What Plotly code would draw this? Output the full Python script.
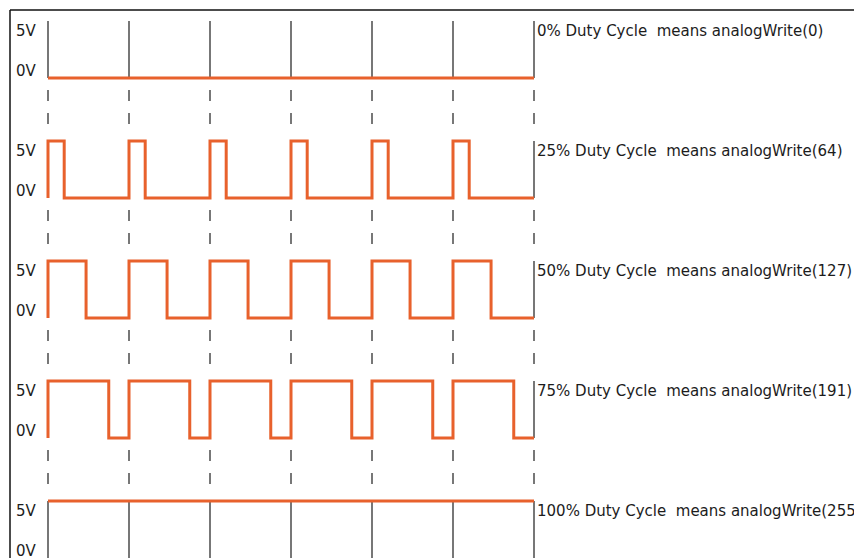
import plotly.graph_objects as go

# --- data ---
duty_labels = ["0%", "25%", "50%", "75%", "100%"]
analog_values = [0, 64, 127, 191, 255]
pulse_width = [0.0, 0.2, 0.47, 0.75, 1.0]   # high part of each period, as drawn
n_periods = 6
v_high = 5
v_low = 0

# --- page geometry (pixels); the html body adds an 8px margin ---
PAGE_W, PAGE_H = 862, 558
OFF = 8
W, H = PAGE_W - OFF, PAGE_H - OFF
X0, PPX = 48 - OFF, 81       # first period edge, px per period
Y0, VPX = 78 - OFF, 11.4     # 0V of the top row, px per volt
ROW_PX = 120
pitch = ROW_PX / VPX

orange = "#e8612c"
grid = "#4a4a4a"
txt = "#1c1c1c"

fig = go.Figure()

# solid verticals inside each row and dashes between rows
vx, vy, dx, dy = [], [], [], []
for k in range(len(duty_labels)):
    base = -k * pitch
    for i in range(n_periods + 1):
        vx += [i, i, None]
        vy += [base + v_low, base + v_high, None]
        if k < len(duty_labels) - 1:
            for a, b in [(12, 23), (35, 46)]:
                dx += [i, i, None]
                dy += [base - a / VPX, base - b / VPX, None]

fig.add_trace(go.Scatter(x=vx, y=vy, mode="lines",
                         line=dict(color=grid, width=1.5), hoverinfo="skip"))
fig.add_trace(go.Scatter(x=dx, y=dy, mode="lines",
                         line=dict(color=grid, width=1.5), hoverinfo="skip"))

# the PWM waveforms
for k, d in enumerate(pulse_width):
    base = -k * pitch
    if d <= 0:
        xs, ys = [0, n_periods], [v_low, v_low]
    elif d >= 1:
        xs, ys = [0, n_periods], [v_high, v_high]
    else:
        xs, ys = [], []
        for i in range(n_periods):
            xs += [i, i, i + d, i + d]
            ys += [v_low, v_high, v_high, v_low]
        xs.append(n_periods)
        ys.append(v_low)
    fig.add_trace(go.Scatter(x=xs, y=[base + v for v in ys], mode="lines",
                             line=dict(color=orange, width=3), hoverinfo="skip"))

    fig.add_annotation(x=(14 - OFF - X0) / PPX, y=base + v_high - 10 / VPX,
                       text="5V", showarrow=False, xanchor="left", yanchor="middle",
                       font=dict(size=15, color=txt))
    fig.add_annotation(x=(14 - OFF - X0) / PPX, y=base + v_low + 7 / VPX,
                       text="0V", showarrow=False, xanchor="left", yanchor="middle",
                       font=dict(size=15, color=txt))
    fig.add_annotation(x=(535 - OFF - X0) / PPX, y=base + v_high - 10 / VPX,
                       text=f"{duty_labels[k]} Duty Cycle \u00a0means analogWrite({analog_values[k]})",
                       showarrow=False, xanchor="left", yanchor="middle",
                       font=dict(size=15, color=txt))

# frame, top and left edges
fy = 1 - (10 - OFF) / H
fx = (10 - OFF) / W
fig.add_shape(type="line", xref="paper", yref="paper", x0=fx, y0=fy, x1=1, y1=fy,
              line=dict(color="#111111", width=1.5))
fig.add_shape(type="line", xref="paper", yref="paper", x0=fx, y0=fy, x1=fx, y1=0,
              line=dict(color="#111111", width=1.5))

fig.update_layout(
    width=W, height=H,
    margin=dict(l=0, r=0, t=0, b=0),
    paper_bgcolor="white", plot_bgcolor="white",
    showlegend=False,
    font=dict(family="DejaVu Sans, Liberation Sans, Arial, sans-serif"),
    xaxis=dict(visible=False, range=[-X0 / PPX, (W - X0) / PPX], fixedrange=True),
    yaxis=dict(visible=False, range=[-(H - Y0) / VPX, Y0 / VPX], fixedrange=True),
)

fig.write_html("out.html")
